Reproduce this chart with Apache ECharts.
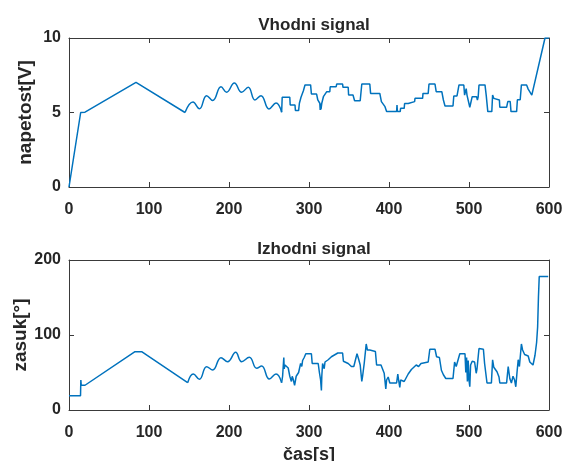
<!DOCTYPE html>
<html><head><meta charset="utf-8">
<script src="https://cdn.jsdelivr.net/npm/echarts@6/dist/echarts.min.js"></script>
<style>html,body{margin:0;padding:0;background:#fff}#c{width:568px;height:461px}</style>
</head><body><div id="c"></div>
<script>
// ---- data (time [s], value) ----
const xTicks = [0, 100, 200, 300, 400, 500, 600];
const topTitle = 'Vhodni signal';
const bottomTitle = 'Izhodni signal';
const topYName = 'napetost[V]';
const bottomYName = 'zasuk[°]';
const xName = 'čas[s]';

// input voltage: ramp part
const vhodRamp = [[0,0],[14.6,5.0],[20,5.02],[83.75,7.02],[145,5.0]];
// input voltage: oscillating part (peaks and troughs)
const vhodOsc = [[145,5.0],[155,5.7],[163,5.25],[172,6.13],[179.6,5.8],[190,6.73],[197,6.36],[206.7,6.98],[215.8,6.36],[224,6.69],[232.5,5.84],[240,6.13],[250,5.24],[258.75,5.64],[265.8,5.02]];
// input voltage: step part
const vhodSteps = [[265.8,5.02],[266.5,6.02],[276,6.02],[276.5,5.5],[282.5,5.5],[283,5.13],[287,5.13],[288,5.62],[290,6.02],[293,6.46],[295,6.85],[302,6.85],[303,6.24],[309.5,6.24],[311,5.84],[313.5,5.62],[314,5.17],[314.5,5.6],[315,5.2],[316,5.62],[318,6.06],[319,6.06],[322,6.39],[326,6.39],[326.5,6.73],[334,6.73],[334.6,6.91],[342,6.91],[342.5,6.69],[349,6.69],[349.5,6.17],[355,6.17],[357,5.79],[364,5.79],[366,6.91],[376,6.91],[377,6.28],[388.5,6.28],[390.5,5.73],[395,5.39],[397,5.06],[409.5,5.06],[410,5.5],[410.5,5.06],[414,5.06],[414.5,5.28],[419,5.28],[419.5,5.6],[424,5.6],[424.5,5.73],[432,5.73],[432.5,5.95],[442,5.95],[442.5,6.28],[449,6.28],[450,6.91],[457.5,6.91],[459,6.4],[466,6.4],[468,5.84],[470,5.44],[480,5.44],[481,6.11],[485,6.11],[487.5,6.85],[493.5,6.85],[494.5,6.17],[496,6.3],[496.5,6.6],[497.5,6.17],[500,6.17],[501,5.35],[503,5.35],[504,6.06],[509.5,6.06],[510.5,5.84],[511.5,6.06],[512.5,6.85],[520,6.85],[521.5,6.17],[523.5,5.06],[528.5,5.06],[529.5,6.17],[530.5,6.25],[531,5.95],[533.5,5.84],[538,5.84],[538.5,5.35],[547,5.35],[548.5,5.73],[551.5,5.73],[552.5,5.06],[559.5,5.06],[560.5,5.86],[564,5.86],[565.5,6.85],[572,6.85],[574,6.57],[578.5,6.17],[595,10],[600,10]];

// output angle: ramp part
const izhodRamp = [[0,19],[14.4,19],[14.8,40],[15.3,33],[20,33],[82.5,77.8],[90.8,77.8],[148.3,36.4]];
// output angle: oscillating part
const izhodOsc = [[148.3,36.4],[155.4,48],[163,40.9],[172,57.8],[179.6,53.3],[190,69.8],[198.3,64.4],[208.3,76.9],[215.8,64.4],[225.4,70.2],[234.6,55.6],[240.8,58.7],[250.4,41.3],[258.75,48],[265.8,36.4]];
// output angle: step part
const izhodSteps = [[265.8,36.4],[267,45],[268.5,70],[269,55],[270,60],[274,56],[276,45],[278,38],[279,45],[280,42],[282,33],[284,45],[287,50],[289.5,62],[291,58],[292,66],[294,70],[296,75],[303,75],[304,62],[311.5,62],[313,50],[314.5,40],[315.5,26],[316,45],[317,62],[319,55],[320,64],[324,67],[328,71],[336,76],[342,76],[343,65],[349,62],[353,58],[356,58],[360,75],[362,68],[364,60],[366,38],[367,45],[369,62],[371.5,88],[373,80],[376,80],[378,78],[383,78],[384.5,60],[390,60],[394,49],[396,28],[397,40],[399,44],[401,36],[409.5,36],[411,48],[412,40],[413.5,30],[414.5,40],[416,42],[419,38],[421,42],[424,48],[428,54],[434,60],[437,58],[440,62],[449,64],[451,81],[457.5,81],[459.5,71],[463,70],[465.5,53],[468,47],[471,42],[480,42],[482,64],[484,58],[486,60],[488.5,75],[495,75],[496,50],[497,70],[498,38],[499,66],[500,40],[501,31],[502,60],[504,65],[507,64],[509,49],[510,55],[512.5,82],[518,81],[519.5,62],[522.5,36],[528,36],[529.5,67],[531,57],[535,51],[537.5,44],[538.5,36],[547,36],[549,58],[551,42],[553,36],[555,45],[557,40],[558.5,31],[560,50],[561.5,67],[563,58],[565.5,88],[567,80],[569.5,74],[574,72],[576,64],[580,60],[582.5,73],[584.5,90],[585.8,111],[586.8,150],[587.8,178],[599,178]];

// ---- chart ----
const FONT = '"Liberation Sans", Arial, Helvetica, sans-serif';
const TXT = '#262626';
const AX = '#3a3a3a';
const LINE = '#0072BD';

function xAx(gi, pos, labels, name) {
  return {
    type: 'value', gridIndex: gi, position: pos, min: 0, max: 600, interval: 100,
    axisLine: { show: true, onZero: false, lineStyle: { color: AX, width: 1 } },
    axisTick: { show: true, inside: true, length: 5, lineStyle: { color: AX } },
    axisLabel: { show: labels, margin: 15, color: TXT, fontFamily: FONT, fontWeight: 'bold', fontSize: 16 },
    splitLine: { show: false },
    name: name || '', nameLocation: 'middle', nameGap: 36, nameMoveOverlap: false,
    nameTextStyle: { color: TXT, fontFamily: FONT, fontWeight: 'bold', fontSize: 18 }
  };
}
function yAx(gi, pos, max, interval, labels, name, gap) {
  return {
    type: 'value', gridIndex: gi, position: pos, min: 0, max: max, interval: interval,
    axisLine: { show: true, onZero: false, lineStyle: { color: AX, width: 1 } },
    axisTick: { show: true, inside: true, length: 5, lineStyle: { color: AX } },
    axisLabel: { show: labels, margin: 8, color: TXT, fontFamily: FONT, fontWeight: 'bold', fontSize: 16 },
    splitLine: { show: false },
    name: name || '', nameLocation: 'middle', nameRotate: 90, nameGap: gap || 30, nameMoveOverlap: false,
    nameTextStyle: { color: TXT, fontFamily: FONT, fontWeight: 'bold', fontSize: 19 }
  };
}
function ser(data, xi, yi, smooth) {
  return { type: 'line', data: data, xAxisIndex: xi, yAxisIndex: yi, showSymbol: false, smooth: smooth ? 0.45 : false,
    lineStyle: { color: LINE, width: 1.5 }, itemStyle: { color: LINE }, animation: false, silent: true, clip: true };
}

const chart = echarts.init(document.getElementById('c'), null, { renderer: 'canvas' });
chart.setOption({
  animation: false,
  backgroundColor: '#ffffff',
  title: [
    { text: topTitle, left: 309, top: 12, textAlign: 'center',
      textStyle: { color: TXT, fontFamily: FONT, fontWeight: 'bold', fontSize: 17 } },
    { text: bottomTitle, left: 309, top: 236, textAlign: 'center',
      textStyle: { color: TXT, fontFamily: FONT, fontWeight: 'bold', fontSize: 17 } }
  ],
  grid: [
    { left: 69, top: 38, width: 480, height: 149, containLabel: false, outerBoundsMode: 'none' },
    { left: 69, top: 260, width: 480, height: 150, containLabel: false, outerBoundsMode: 'none' }
  ],
  xAxis: [
    xAx(0, 'bottom', true), xAx(0, 'top', false),
    xAx(1, 'bottom', true, xName), xAx(1, 'top', false)
  ],
  yAxis: [
    yAx(0, 'left', 10, 5, true, topYName, 34), yAx(0, 'right', 10, 5, false),
    yAx(1, 'left', 200, 100, true, bottomYName, 39), yAx(1, 'right', 200, 100, false)
  ],
  series: [
    ser(vhodRamp, 0, 0, false), ser(vhodOsc, 0, 0, true), ser(vhodSteps, 0, 0, false),
    ser(izhodRamp, 2, 2, false), ser(izhodOsc, 2, 2, true), ser(izhodSteps, 2, 2, false)
  ]
});
</script>
</body></html>
